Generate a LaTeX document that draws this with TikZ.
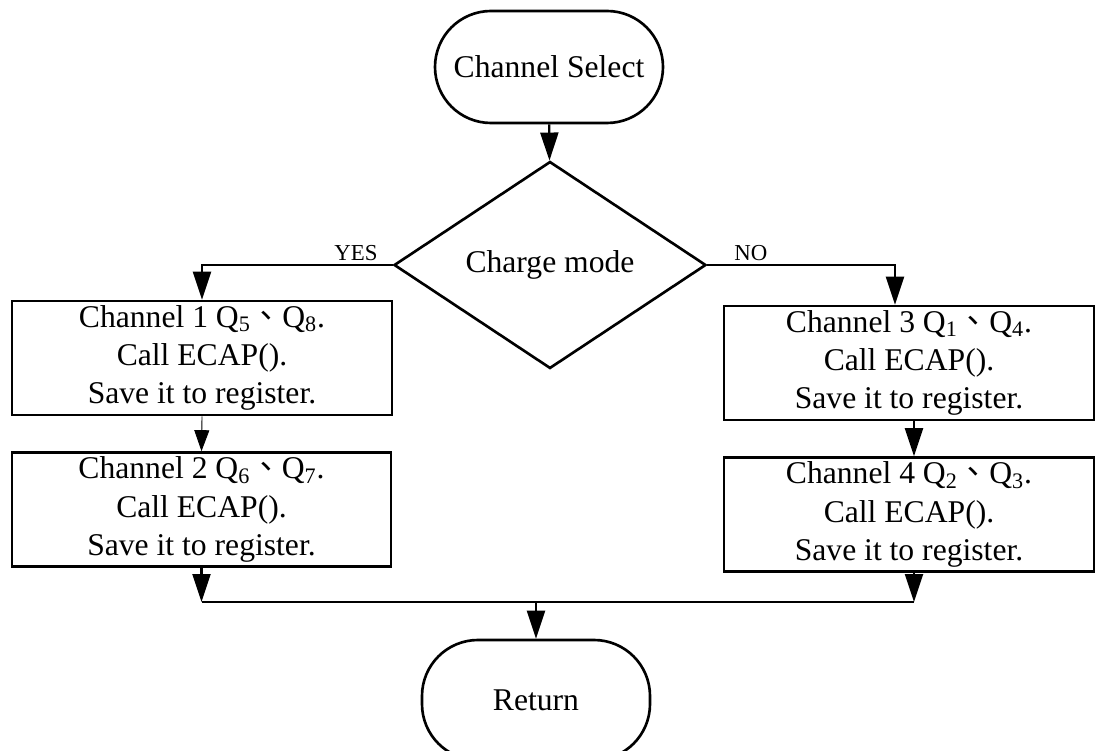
\documentclass[tikz,border=0pt]{standalone}
\usepackage{fontspec}
\setmainfont{Liberation Serif}
\newfontfamily\cjk{Noto Sans CJK TC}
\usepackage{tikz, xcolor}
\usetikzlibrary{shapes.geometric,arrows.meta}

\begin{document}
\begin{tikzpicture}[line width=1.3pt, font=\fontsize{18}{21.8}\selectfont]
\tikzstyle{vertext}=[rectangle, draw=black, line width=1.5pt, rounded corners=1.12cm, minimum width=4.56cm, minimum height=2.24cm, inner sep=2pt]
\tikzstyle{vertexd}=[diamond, draw=black, line width=1.5pt, minimum width=6.24cm, minimum height=4.14cm, inner sep=0pt]
\tikzstyle{vertexr}=[rectangle, draw=black, line width=1.5pt, minimum height=2.28cm, inner sep=2pt, align=center]
\tikzstyle{drawstyle}=[line width=1.3pt, -{Triangle[length=0.56cm, width=0.36cm]}]
\tikzstyle{thinstyle}=[line width=0.5pt, -{Triangle[length=0.42cm, width=0.3cm]}]
\tikzstyle{linestyle}=[line width=1.3pt]
\tikzstyle{lbl}=[font=\fontsize{13}{15}\selectfont, inner sep=0pt]
\useasboundingbox (0,0) rectangle (21.94,-15.02);

\node[vertext] (S0) at (10.98,-1.34) {Channel Select};
\node[vertexd] (D0) at (11.0,-5.3) {Charge mode};
\draw[drawstyle] (S0) -- (D0);
\node[vertexr, minimum width=7.6cm] (B1) at (4.04,-7.16) {Channel 1 Q\textsubscript{5}{\cjk 、}Q\textsubscript{8}.\\Call ECAP().\\Save it to register.};
\node[vertexr, minimum width=7.58cm] (B2) at (4.03,-10.19) {Channel 2 Q\textsubscript{6}{\cjk 、}Q\textsubscript{7}.\\Call ECAP().\\Save it to register.};
\draw[drawstyle] (D0.west) -| (B1.north);
\draw[thinstyle] (B1.south) -- (B2.north);
\node[vertexr, minimum width=7.4cm] (B3) at (18.18,-7.26) {Channel 3 Q\textsubscript{1}{\cjk 、}Q\textsubscript{4}.\\Call ECAP().\\Save it to register.};
\node[vertexr, minimum width=7.4cm] (B4) at (18.18,-10.29) {Channel 4 Q\textsubscript{2}{\cjk 、}Q\textsubscript{3}.\\Call ECAP().\\Save it to register.};
\draw[drawstyle] (D0.east) -| ([xshift=-0.28cm]B3.north);
\draw[drawstyle] ([xshift=0.1cm]B3.south) -- ([xshift=0.1cm]B4.north);
\node[lbl, anchor=base east] (L1) at ([xshift=-0.28cm, yshift=0.08cm]D0.west) {YES};
\node[lbl, anchor=base west] (L2) at ([xshift=0.52cm, yshift=0.08cm]D0.east) {NO};
\node[vertext, minimum height=2.4cm] (R0) at (10.72,-14.0) {Return};
\coordinate (J2) at (B2.south |- 0,-12.04);
\coordinate (J4) at ([xshift=0.1cm]B4.south |- 0,-12.04);
\coordinate (J0) at (R0.north |- 0,-12.04);
\draw[drawstyle] (B2.south) -- (J2);
\draw[drawstyle] ([xshift=0.1cm]B4.south) -- (J4);
\draw[linestyle] (J2) -- (J4);
\draw[drawstyle] (J0) -- (R0.north);
\end{tikzpicture}
\end{document}
